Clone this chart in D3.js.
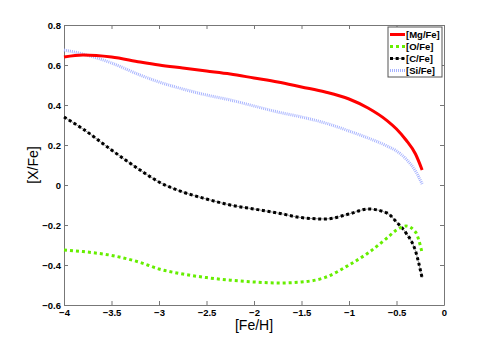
<!DOCTYPE html>
<html>
<head>
<meta charset="utf-8">
<script src="https://cdn.jsdelivr.net/npm/d3@7"></script>
<style>
  body { margin: 0; background: #fff; }
  svg text { font-family: Helvetica, Arial, "Liberation Sans", sans-serif; }
</style>
</head>
<body>
<div id="chart"></div>
<script>
'use strict';

// [Fe/H] sample points shared by every series
var feh = [-4, -3.8, -3.5, -3.2, -3, -2.75, -2.5, -2.25, -2, -1.75, -1.5, -1.25, -1, -0.8, -0.6, -0.5, -0.4, -0.3, -0.23];

var mgFe = [0.64, 0.65, 0.64, 0.615, 0.60, 0.585, 0.57, 0.555, 0.535, 0.515, 0.49, 0.465, 0.43, 0.385, 0.322, 0.28, 0.225, 0.155, 0.075];
var oFe  = [-0.325, -0.333, -0.352, -0.387, -0.42, -0.445, -0.463, -0.476, -0.485, -0.49, -0.485, -0.462, -0.40, -0.34, -0.265, -0.225, -0.205, -0.235, -0.34];
var cFe  = [0.34, 0.28, 0.175, 0.075, 0.015, -0.035, -0.07, -0.1, -0.12, -0.14, -0.163, -0.17, -0.145, -0.12, -0.14, -0.185, -0.24, -0.33, -0.465];
var siFe = [0.675, 0.655, 0.61, 0.55, 0.515, 0.48, 0.45, 0.425, 0.395, 0.365, 0.34, 0.31, 0.27, 0.235, 0.195, 0.17, 0.13, 0.07, 0.005];

var seriesNames = ['[Mg/Fe]', '[O/Fe]', '[C/Fe]', '[Si/Fe]'];
var xTicks = [-4, -3.5, -3, -2.5, -2, -1.5, -1, -0.5, 0];
var yTicks = [-0.6, -0.4, -0.2, 0, 0.2, 0.4, 0.6, 0.8];

var width = 491, height = 343;
var margin = {top: 25, right: 47, bottom: 38, left: 64};

var svg = d3.select('#chart').append('svg')
    .attr('width', width)
    .attr('height', height);

var x = d3.scaleLinear().domain([-4, 0]).range([margin.left, width - margin.right]);
var y = d3.scaleLinear().domain([-0.6, 0.8]).range([height - margin.bottom, margin.top]);

var fmt = function(d) { return d === 0 ? '0' : d3.format('')(d).replace('-', '\u2013'); };

// axes with inward ticks, mirrored on top/right
var axisColor = '#777';
function styleAxis(g, showText) {
    g.select('.domain').attr('stroke', axisColor);
    g.selectAll('.tick line').attr('stroke', axisColor);
    g.selectAll('.tick text')
        .attr('fill', '#000')
        .style('font-size', '9.5px')
        .style('font-weight', 'bold')
        .style('display', showText ? null : 'none');
}

svg.append('g')
    .attr('transform', 'translate(0,' + y(-0.6) + ')')
    .call(d3.axisBottom(x).tickValues(xTicks).tickFormat(fmt).tickSizeInner(-4).tickSizeOuter(0).tickPadding(4))
    .call(styleAxis, true);

svg.append('g')
    .attr('transform', 'translate(0,' + y(0.8) + ')')
    .call(d3.axisTop(x).tickValues(xTicks).tickSizeInner(-4).tickSizeOuter(0))
    .call(styleAxis, false);

svg.append('g')
    .attr('transform', 'translate(' + x(-4) + ',0)')
    .call(d3.axisLeft(y).tickValues(yTicks).tickFormat(fmt).tickSizeInner(-4).tickSizeOuter(0).tickPadding(3))
    .call(styleAxis, true);

svg.append('g')
    .attr('transform', 'translate(' + x(0) + ',0)')
    .call(d3.axisRight(y).tickValues(yTicks).tickSizeInner(-4).tickSizeOuter(0))
    .call(styleAxis, false);

// axis labels
svg.append('text')
    .attr('x', x(-2))
    .attr('y', height - 13)
    .attr('text-anchor', 'middle')
    .style('font-size', '14px')
    .text('[Fe/H]');

svg.append('text')
    .attr('transform', 'translate(38,' + y(0.1) + ') rotate(-90)')
    .attr('text-anchor', 'middle')
    .style('font-size', '14px')
    .text('[X/Fe]');

// line styles
var styles = [
    {color: '#ff0000', width: 3, dash: null},
    {color: '#66ee00', width: 3, dash: '3,3'},
    {color: '#000000', width: 3, dash: '3,2.7', under: '#999'},
    {color: '#a8b4ff', width: 3, dash: '1,1'}
];
var allSeries = [mgFe, oFe, cFe, siFe];

var line = d3.line()
    .x(function(d) { return x(d[0]); })
    .y(function(d) { return y(d[1]); })
    .curve(d3.curveMonotoneX);

var plot = svg.append('g');
// draw in reverse so Mg sits on top
[3, 2, 1, 0].forEach(function(i) {
    var pts = feh.map(function(f, j) { return [f, allSeries[i][j]]; });
    var s = styles[i];
    if (s.under) {
        plot.append('path').datum(pts)
            .attr('d', line).attr('fill', 'none')
            .attr('stroke', s.under).attr('stroke-width', 1);
    }
    plot.append('path').datum(pts)
        .attr('d', line)
        .attr('fill', 'none')
        .attr('stroke', s.color)
        .attr('stroke-width', s.width)
        .attr('stroke-dasharray', s.dash);
});

// legend
var lg = svg.append('g').attr('transform', 'translate(388,27)');
lg.append('rect')
    .attr('width', 54).attr('height', 50)
    .attr('fill', '#fff').attr('stroke', '#555').attr('stroke-width', 1);

seriesNames.forEach(function(name, i) {
    var s = styles[i];
    var yy = 7.5 + i * 12;
    if (s.under) {
        lg.append('line').attr('x1', 2).attr('x2', 17).attr('y1', yy).attr('y2', yy)
            .attr('stroke', s.under).attr('stroke-width', 1);
    }
    lg.append('line')
        .attr('x1', 2).attr('x2', 17).attr('y1', yy).attr('y2', yy)
        .attr('stroke', s.color).attr('stroke-width', s.width)
        .attr('stroke-dasharray', s.dash);
    lg.append('text')
        .attr('x', 18).attr('y', yy + 3.5)
        .style('font-size', '9.5px')
        .style('font-weight', 'bold')
        .text(name);
});
</script>
</body>
</html>
